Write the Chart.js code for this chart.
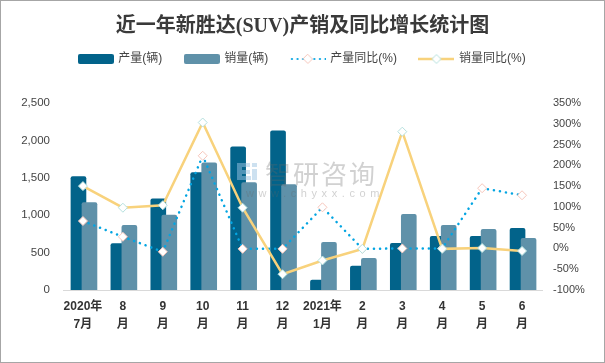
<!DOCTYPE html>
<html><head><meta charset="utf-8">
<style>html,body{margin:0;padding:0;background:#fff}canvas{display:block;outline:1px solid #a6a6a6;outline-offset:-1px}</style>
<script src="https://cdn.jsdelivr.net/npm/chart.js@4"></script></head>
<body><canvas id="c" width="605" height="363"></canvas>
<script>
const categories=[["2020年","7月"],["8","月"],["9","月"],["10","月"],["11","月"],["12","月"],["2021年","1月"],["2","月"],["3","月"],["4","月"],["5","月"],["6","月"]];
const output=[1516,620,1220,1570,1915,2128,133,320,625,718,718,824];
const sales=[1170,864,1000,1700,1436,1410,638,425,1010,864,811,691];
const outputYoY=[66,28,-8,223,-1,-1,99,-1,0,0,145,128];
const salesYoY=[150,98,104,303,98,-62,-29,-1,281,-1,1,-6];
const leftTicks=[0,500,1000,1500,2000,2500];
const titleText="近一年新胜达(SUV)产销及同比增长统计图";
const names=["产量(辆)","销量(辆)","产量同比(%)","销量同比(%)"];
const C={dark:"#02638a",light:"#5f91a9",dot:"#04a5e2",gold:"#f8d27c",pink:"#f6c6bb",teal:"#b5e0de"};
const sans='"Liberation Sans","Noto Sans CJK SC",sans-serif';
function sample(kind){
  const k=document.createElement("canvas");k.width=36;k.height=12;const g=k.getContext("2d");
  if(kind==="dark"||kind==="light"){g.fillStyle=C[kind];g.beginPath();g.roundRect(0,1,36,10,2);g.fill();return k;}
  if(kind==="dot"){g.strokeStyle=C.dot;g.lineWidth=2.2;g.lineCap="round";g.setLineDash([0.1,5.5]);g.beginPath();g.moveTo(2,6);g.lineTo(36,6);g.stroke();g.setLineDash([]);}
  else{g.strokeStyle=C.gold;g.lineWidth=2.5;g.beginPath();g.moveTo(0,6);g.lineTo(36,6);g.stroke();}
  g.fillStyle="#fff";g.strokeStyle=kind==="dot"?C.pink:C.teal;g.lineWidth=1;
  g.beginPath();g.moveTo(18,1.5);g.lineTo(22.5,6);g.lineTo(18,10.5);g.lineTo(13.5,6);g.closePath();g.fill();g.stroke();return k;
}
const samples=[sample("dark"),sample("light"),sample("dot"),sample("gold")];
const shift={
  id:"shift",
  afterDatasetsUpdate(ch){
    [-4.5,6.5].forEach((d,i)=>{ch.getDatasetMeta(i+2).data.forEach(el=>{el.x+=d;});});
  },
  afterLayout(ch){
    ch.legend.top=30;
  }
};
const mark={
  id:"mark",
  afterDatasetsDraw(ch){
    const g=ch.ctx;g.save();
    g.globalAlpha=.5;
    g.fillStyle="#9cc3e2";
    g.fillRect(237,163,5,17);g.fillRect(242,163,8,4);g.fillRect(242,170,8,4);
    g.fillRect(252,163,5,4);g.fillRect(252,169,5,11);g.fillRect(242,176,9,4);
    g.globalAlpha=.3;g.fillStyle="#666";g.textBaseline="alphabetic";g.textAlign="left";
    g.font='26px "Noto Sans CJK SC",sans-serif';g.letterSpacing="2px";g.fillText("智研咨询",265,184);
    g.font='11px "Liberation Sans",sans-serif';g.letterSpacing="4.6px";g.fillText("www.chyxx.com",246,197);
    g.restore();
  }
};
function lineDs(label,data,color,border,dash,w){
  return {type:"line",label,data,yAxisID:"y1",borderColor:color,borderWidth:w,borderDash:dash,borderCapStyle:dash.length?"round":"butt",tension:0,
    pointStyle:"rectRot",pointRadius:4.5,pointBackgroundColor:"#fff",pointBorderColor:border,pointBorderWidth:1,order:0};
}
new Chart(document.getElementById("c"),{
  data:{labels:categories,datasets:[
    lineDs(names[3],salesYoY,C.gold,C.teal,[],2.5),
    lineDs(names[2],outputYoY,C.dot,C.pink,[0.1,6],2.5),
    {type:"bar",label:names[0],data:output,yAxisID:"y",backgroundColor:C.dark,barThickness:15,grouped:false,borderRadius:{topLeft:2,topRight:2},order:2},
    {type:"bar",label:names[1],data:sales,yAxisID:"y",backgroundColor:C.light,barThickness:15,grouped:false,borderRadius:{topLeft:2,topRight:2},order:1}
  ]},
  plugins:[shift,mark],
  options:{
    responsive:false,animation:false,
    plugins:{
      tooltip:{enabled:false},
      title:{display:true,text:titleText,color:"#3a3a3a",font:{family:'"Liberation Serif","Noto Sans CJK SC",serif',size:20,weight:"bold"},padding:{top:15,bottom:19}},
      legend:{position:"top",labels:{usePointStyle:true,pointStyleWidth:33,color:"#444",font:{family:sans,size:12},padding:23,boxHeight:12,
        generateLabels(){return names.map((t,i)=>({text:t,pointStyle:samples[i],fillStyle:"#fff",strokeStyle:"#fff",lineWidth:0,fontColor:"#444",datasetIndex:i}));}
      }}
    },
    scales:{
      x:{grid:{display:false,drawTicks:false},border:{color:"#d9d9d9",width:1},
        ticks:{maxRotation:0,autoSkip:false,padding:8,color:"#333",font:{family:sans,size:12,weight:"bold",lineHeight:1.5}},
        afterFit(s){s.height=73;}},
      y:{position:"left",min:0,max:2500,grid:{display:false,drawTicks:false},border:{display:false},
        afterBuildTicks(s){s.ticks=leftTicks.map(v=>({value:v}));},
        ticks:{padding:13,color:"#444",font:{family:sans,size:11.5},callback:v=>v.toLocaleString("en-US")},
        afterFit(s){s.width=63;}},
      y1:{position:"right",min:-100,max:350,grid:{display:false,drawTicks:false},border:{display:false},
        ticks:{stepSize:50,padding:11,color:"#444",font:{family:sans,size:11},callback:v=>v+"%"},
        afterFit(s){s.width=63;}}
    }
  }
});
</script></body></html>
